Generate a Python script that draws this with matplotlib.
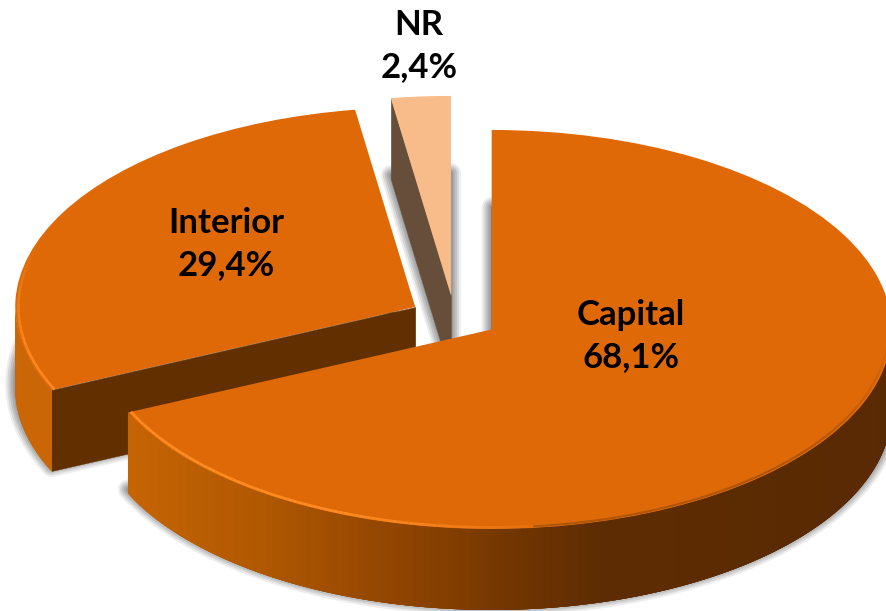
import numpy as np
import matplotlib
matplotlib.use("Agg")
import matplotlib.pyplot as plt
from matplotlib.patches import Wedge
from matplotlib.collections import PolyCollection, LineCollection
from matplotlib.colors import to_rgb
from matplotlib.transforms import Affine2D

categories = ["Capital", "Interior", "NR"]
values = [68.1, 29.4, 2.4]
explode = [0.111, 0.111, 0.111]

top_colors = ["#E06907", "#E06907", "#F8BC8A"]
cut_colors = ["#623000", "#623000", "#674E3A"]
label_xy = [(631, 336), (226, 244), (419, 46)]

W, H = 886, 611
RX, RY = 400, 199.5
CX, CY = 454.3, 317.5
DEPTH = 81 / RY

fig = plt.figure(figsize=(W / 100, H / 100), dpi=100, facecolor="white")
ax = fig.add_axes([0, 0, 1, 1])

wedges, _ = ax.pie(values, colors=top_colors, explode=explode, startangle=90,
                   counterclock=False, radius=1, wedgeprops=dict(linewidth=0))
ax.set_aspect("auto")
ax.set_xlim(0, W)
ax.set_ylim(H, 0)
ax.axis("off")

T = Affine2D().scale(RX, -RY).translate(CX, CY) + ax.transData

grad_x = [0, 128, 260, 400, 500, 600, 900]
grad_c = np.array([to_rgb(c) for c in
                   ["#CC6706", "#C66404", "#B05802", "#8F4401",
                    "#743700", "#5E2C02", "#582A03"]])


def wall_color(x_px):
    return [np.interp(x_px, grad_x, grad_c[:, i]) for i in range(3)]


def arc_points(w, n=300, r=1.0):
    th = np.radians(np.linspace(w.theta1, w.theta2, n))
    return (w.center[0] + r * np.cos(th), w.center[1] + r * np.sin(th), th)


def wall_shows(w, x_end, y_end):
    """A cut wall shows only if going down from that edge leaves the wedge."""
    mx, my = (x_end - w.center[0]) / 2, (y_end - w.center[1]) / 2 - 0.02
    ang = np.degrees(np.arctan2(my, mx))
    return not ((ang - w.theta1) % 360 <= (w.theta2 - w.theta1))


# soft shadow of each extruded base, under everything
for w in wedges:
    for lw_px, a in [(20, 0.07), (16, 0.09), (12, 0.10), (8, 0.10), (4, 0.10)]:
        s = Wedge((w.center[0], w.center[1] - DEPTH + 4 / RY), w.r, w.theta1, w.theta2,
                  facecolor=(0, 0, 0, a), edgecolor=(0, 0, 0, a),
                  linewidth=lw_px * 0.72, joinstyle="round",
                  transform=T, zorder=1)
        ax.add_patch(s)

# draw from back to front: NR, Interior, Capital
order = [2, 1, 0]
for rank, i in enumerate(order):
    w = wedges[i]
    z = 2 + rank * 2
    cx, cy = w.center
    xs, ys, th = arc_points(w)

    # radial cut walls
    for x_end, y_end in [(xs[0], ys[0]), (xs[-1], ys[-1])]:
        if not wall_shows(w, x_end, y_end):
            continue
        poly = [(cx, cy), (x_end, y_end), (x_end, y_end - DEPTH), (cx, cy - DEPTH)]
        ax.add_collection(PolyCollection([poly], facecolors=cut_colors[i],
                                         edgecolors=cut_colors[i], linewidths=0.3,
                                         transform=T, zorder=z))

    # curved outer wall, front-facing part only; slices overlap so no seams show
    front = np.sin(th) <= 0
    fx, fy = xs[front], ys[front]
    polys, cols = [], []
    for k in range(len(fx) - 1):
        e = min(k + 4, len(fx) - 1)
        top = list(zip(fx[k:e + 1], fy[k:e + 1]))
        bot = list(zip(fx[k:e + 1], fy[k:e + 1] - DEPTH))
        polys.append(top + bot[::-1])
        cols.append(wall_color(CX + RX * fx[k]))
    if polys:
        ax.add_collection(PolyCollection(polys, facecolors=cols, edgecolors="none",
                                         transform=T, zorder=z + 0.2))

    # top face
    w.set_transform(T)
    w.set_zorder(z + 1)

    # bevel along the rim
    if i != 2:
        rx, ry, rth = arc_points(w, r=0.992)
        segs = [[(rx[k], ry[k]), (rx[k + 1], ry[k + 1])] for k in range(len(rx) - 1)]
        dot = -0.75 * np.cos(rth[:-1]) - 0.66 * np.sin(rth[:-1])
        a_hi = np.clip((dot - 0.5) * 2.5, 0, 1)
        hi = [(1.0, 0.55, 0.13, a) for a in a_hi]
        ax.add_collection(LineCollection(segs, colors=hi, linewidths=1.9,
                                         transform=T, zorder=z + 1.5))
        a_lo = np.clip((-np.sin(rth[:-1]) - 0.05) * 1.2, 0, 0.7) * (np.cos(rth[:-1]) > 0.1)
        lo = [(0.6, 0.3, 0.03, a) for a in a_lo]
        ax.add_collection(LineCollection(segs, colors=lo, linewidths=1.5,
                                         transform=T, zorder=z + 1.5))

for cat, val, (lx, ly) in zip(categories, values, label_xy):
    ax.text(lx, ly, f"{cat}\n{val:.1f}%".replace(".", ","), ha="center", va="center",
            fontsize=25, fontweight="bold", family="Lato", color="black",
            linespacing=1.42, zorder=20)

fig.savefig("out.png", dpi=100, facecolor="white")
